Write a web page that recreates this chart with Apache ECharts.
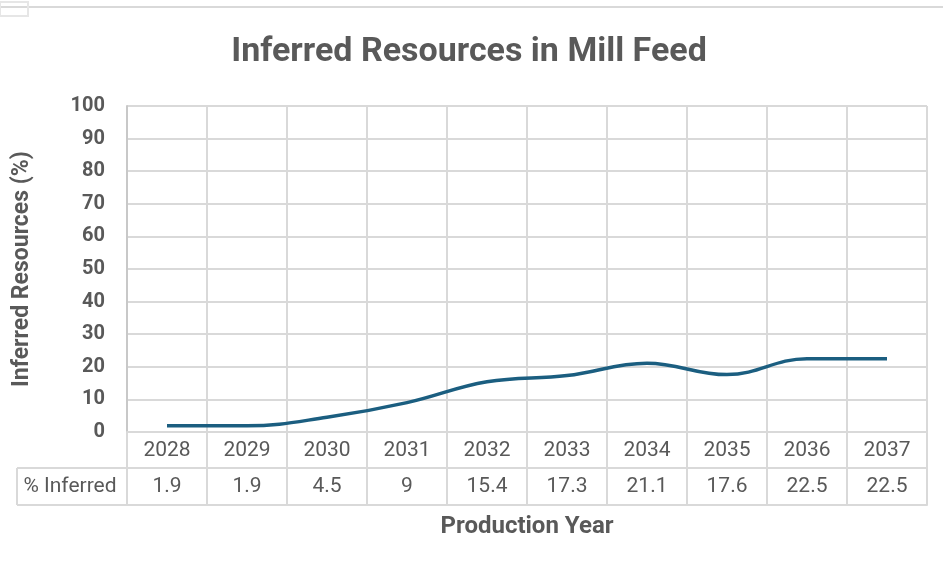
<!DOCTYPE html>
<html><head><meta charset="utf-8">
<script src="https://cdn.jsdelivr.net/npm/echarts@6/dist/echarts.min.js"></script>
<style>html,body{margin:0;padding:0;background:#fff}#c{width:943px;height:570px}</style>
</head><body><div id="c"></div>
<script>
const years = ['2028','2029','2030','2031','2032','2033','2034','2035','2036','2037'];
const inferred = [1.9, 1.9, 4.5, 9, 15.4, 17.3, 21.1, 17.6, 22.5, 22.5];
const tableLabel = '% Inferred';
const txt = '#595959', gl = '#d9d9d9', ff = 'Roboto';
const chart = echarts.init(document.getElementById('c'));
chart.setOption({
  animation: false,
  title: {text: 'Inferred Resources in Mill Feed', left: 464, top: 30, textAlign: 'center',
    textStyle: {fontFamily: ff, fontWeight: 'bold', fontSize: 34, color: txt}},
  grid: {left: 127, right: 16, top: 106, bottom: 138},
  xAxis: [
    {type: 'category', data: years, boundaryGap: true, position: 'bottom',
     axisLine: {show: true, lineStyle: {color: gl, width: 2}},
     axisTick: {show: true, interval: 0, length: 73, lineStyle: {color: gl, width: 2}},
     splitLine: {show: true, interval: 0, lineStyle: {color: gl, width: 2}},
     axisLabel: {interval: 0, margin: 8, fontFamily: ff, fontSize: 21, color: txt},
     name: 'Production Year', nameLocation: 'middle', nameGap: 83,
     nameTextStyle: {fontFamily: ff, fontWeight: 'bold', fontSize: 24, color: txt}},
    {type: 'category', data: inferred.map(String), boundaryGap: true, position: 'bottom', offset: 36,
     axisLine: {show: true, lineStyle: {color: gl, width: 2}}, axisTick: {show: false},
     axisLabel: {interval: 0, margin: 8, fontFamily: ff, fontSize: 21, color: txt}},
    {type: 'category', data: years, boundaryGap: true, position: 'bottom', offset: 73,
     axisLine: {show: true, lineStyle: {color: gl, width: 2}}, axisTick: {show: false}, axisLabel: {show: false}}
  ],
  yAxis: {type: 'value', min: 0, max: 100, interval: 10,
    axisLine: {show: true, lineStyle: {color: '#c8c8c8', width: 2}}, axisTick: {show: false},
    splitLine: {lineStyle: {color: gl, width: 2}},
    axisLabel: {margin: 22, fontFamily: ff, fontWeight: 'bold', fontSize: 20, color: txt},
    name: 'Inferred Resources (%)', nameLocation: 'middle', nameGap: 93,
    nameTextStyle: {fontFamily: ff, fontWeight: 'bold', fontSize: 23, color: txt}},
  series: [{type: 'line', data: inferred, smooth: 0.4, showSymbol: false, xAxisIndex: 0,
    lineStyle: {color: '#1b5e80', width: 3.5}}],
  graphic: [
    {type: 'line', shape: {x1: 0, y1: 7, x2: 943, y2: 7}, style: {stroke: gl, lineWidth: 2}},
    {type: 'rect', shape: {x: 0, y: 2, width: 28, height: 14}, style: {fill: 'none', stroke: '#e6e6e6', lineWidth: 2}},
    {type: 'line', shape: {x1: 17, y1: 468, x2: 127, y2: 468}, style: {stroke: gl, lineWidth: 2}},
    {type: 'line', shape: {x1: 17, y1: 505, x2: 127, y2: 505}, style: {stroke: gl, lineWidth: 2}},
    {type: 'line', shape: {x1: 17, y1: 468, x2: 17, y2: 505}, style: {stroke: gl, lineWidth: 2}},
    {type: 'text', x: 70, y: 487, style: {text: tableLabel, fontFamily: ff, fontSize: 21, fill: txt, align: 'center', verticalAlign: 'middle'}}
  ]
});
</script></body></html>
